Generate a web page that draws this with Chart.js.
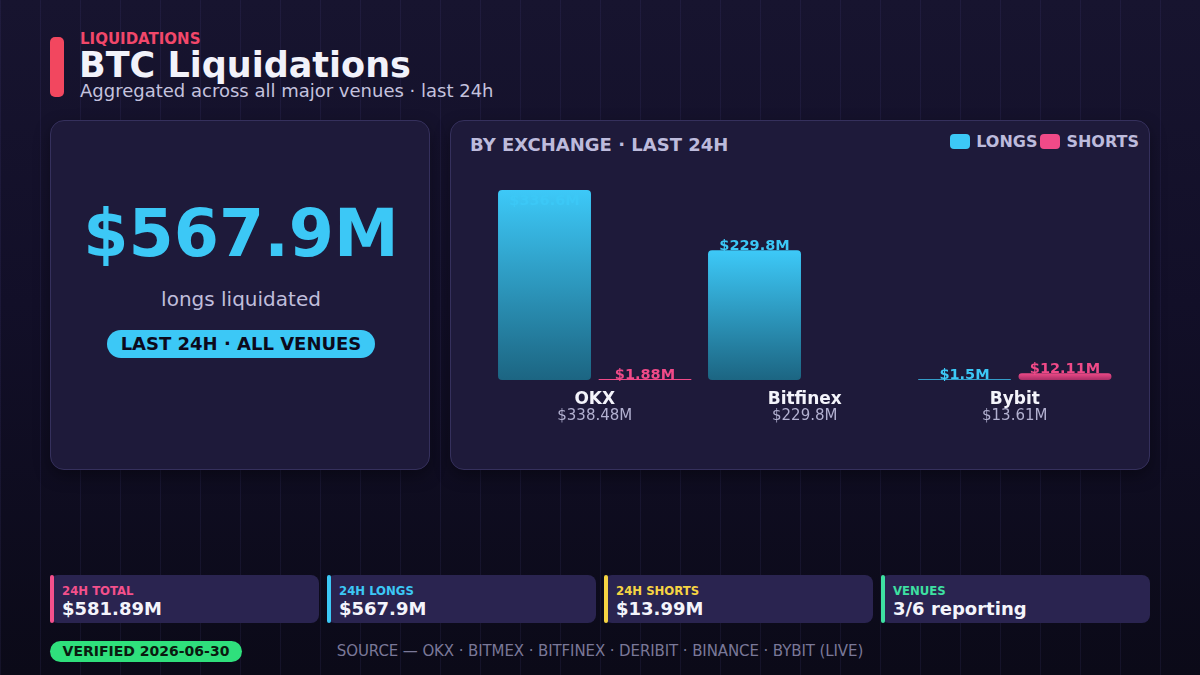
<!DOCTYPE html>
<html>
<head>
<meta charset="utf-8">
<script src="https://cdn.jsdelivr.net/npm/chart.js@4.4.1/dist/chart.umd.min.js"></script>
<style>
	html, body { margin: 0; padding: 0; }
	body {
		width: 1200px; height: 675px; overflow: hidden; position: relative;
		font-family: "DejaVu Sans", sans-serif;
		background:
			repeating-linear-gradient(90deg, rgba(110,100,190,0.10) 0 1px, transparent 1px 40px),
			linear-gradient(180deg, #17142f 0%, #120f28 45%, #0b0a18 100%);
	}
	.accent { position: absolute; left: 50px; top: 37px; width: 14px; height: 60px; border-radius: 5px; background: #f2475f; }
	.kicker { position: absolute; left: 80px; top: 30px; font-size: 15px; font-weight: bold; color: #f2476a; }
	.title { position: absolute; left: 79px; top: 45px; font-size: 35px; font-weight: bold; color: #f2f2fa; }
	.sub { position: absolute; left: 80px; top: 80px; font-size: 18px; color: #c4c2de; }
	.card {
		position: absolute; background: #1e1a3a; border: 1px solid #35305c; border-radius: 14px;
		box-shadow: 0 6px 16px rgba(0,0,0,0.35); box-sizing: border-box;
	}
	.big { position: absolute; left: 0; width: 380px; text-align: center; font-size: 65px; font-weight: bold; color: #3cc8f6; }
	.bigsub { position: absolute; left: 0; width: 380px; text-align: center; font-size: 20px; color: #c0bedc; }
	.pill {
		position: absolute; left: 107px; top: 330px; width: 268px; height: 28px; border-radius: 14px;
		background: #3cc8f6; color: #0c0a1c; font-size: 18px; font-weight: bold; text-align: center; line-height: 28px;
	}
	.ctitle { position: absolute; left: 470px; top: 134px; font-size: 18px; font-weight: bold; color: #bdbbdc; }
	.legend { position: absolute; right: 61px; top: 132px; font-size: 16px; font-weight: bold; color: #bdbbdc; display: flex; align-items: center; }
	.legend i { display: inline-block; width: 20px; height: 15px; border-radius: 4px; margin-right: 6px; }
	.legend span { margin-right: 3px; }
	#chartbox { position: absolute; left: 450px; top: 120px; width: 700px; height: 350px; }
	.stat {
		position: absolute; top: 575px; width: 269px; height: 48px; background: #2a2450; border-radius: 8px; box-sizing: border-box;
	}
	.stat b.bar { position: absolute; left: 0; top: 0; width: 4px; height: 48px; border-radius: 2px; }
	.stat .lab { position: absolute; left: 12px; top: 8px; font-family: "DejaVu Sans Condensed", "DejaVu Sans", sans-serif; font-size: 13px; font-weight: bold; }
	.stat .val { position: absolute; left: 12px; top: 23px; font-size: 18px; font-weight: bold; color: #f4f4fb; }
	.verified {
		position: absolute; left: 50px; top: 641px; width: 192px; height: 21px; border-radius: 11px; background: #2fe07c;
		color: #0a1a10; font-size: 14px; font-weight: bold; text-align: center; line-height: 21px;
	}
	.source { position: absolute; left: 0; width: 1200px; top: 642px; text-align: center; font-size: 15px; letter-spacing: -0.1px; color: #7a7898; }
</style>
</head>
<body>
<div class="accent"></div>
<div class="kicker">LIQUIDATIONS</div>
<div class="title">BTC Liquidations</div>
<div class="sub">Aggregated across all major venues · last 24h</div>

<div class="card" style="left:50px;top:120px;width:380px;height:350px;">
	<div class="big" style="top:75px">$567.9M</div>
	<div class="bigsub" style="top:166px">longs liquidated</div>
</div>
<div class="pill">LAST 24H · ALL VENUES</div>

<div class="card" style="left:450px;top:120px;width:700px;height:350px;"></div>
<div class="ctitle">BY EXCHANGE · LAST 24H</div>
<div class="legend"><i style="background:#3cc8f6"></i><span>LONGS</span><i style="background:#f04a88"></i><span style="margin-right:0">SHORTS</span></div>
<div id="chartbox"><canvas id="chart"></canvas></div>

<div class="stat" style="left:50px"><b class="bar" style="background:#f4508c"></b><div class="lab" style="color:#f4508c">24H TOTAL</div><div class="val">$581.89M</div></div>
<div class="stat" style="left:327px"><b class="bar" style="background:#3cc8f6"></b><div class="lab" style="color:#3cc8f6">24H LONGS</div><div class="val">$567.9M</div></div>
<div class="stat" style="left:604px"><b class="bar" style="background:#f6d443"></b><div class="lab" style="color:#f6d443">24H SHORTS</div><div class="val">$13.99M</div></div>
<div class="stat" style="left:881px"><b class="bar" style="background:#3ee0a2"></b><div class="lab" style="color:#3ee0a2">VENUES</div><div class="val">3/6 reporting</div></div>

<div class="verified">VERIFIED 2026-06-30</div>
<div class="source">SOURCE — OKX · BITMEX · BITFINEX · DERIBIT · BINANCE · BYBIT (LIVE)</div>

<script type="text/javascript">
	let exchanges = ["OKX", "Bitfinex", "Bybit"]
	let longs = [336.6, 229.8, 1.5]
	let shorts = [1.88, 0, 12.11]
	let totals = ["$338.48M", "$229.8M", "$13.61M"]

	let colors = {
		longTop: "#3dc9f8",
		longBottom: "#1c6582",
		shortTop: "#f04a88",
		shortBottom: "#a82e66",
		longText: "#3cc8f6",
		shortText: "#f04a88",
	}

	let gradient = function(top, bottom) {
		return function(ctx) {
			let chart = ctx.chart
			let y = chart.scales.y
			if(!y || ctx.raw == null || !chart.chartArea) {
				return top
			}
			let y0 = y.getPixelForValue(ctx.raw)
			let y1 = y.getPixelForValue(0)
			if(!Number.isFinite(y0) || !Number.isFinite(y1) || y1 - y0 < 2) {
				return top
			}
			let g = chart.ctx.createLinearGradient(0, y0, 0, y1)
			g.addColorStop(0, top)
			g.addColorStop(1, bottom)
			return g
		}
	}

	// value labels above bars + two-line category labels under the plot
	let labels = {
		id: "labels",
		afterDatasetsDraw: function(chart) {
			let ctx = chart.ctx
			let area = chart.chartArea
			let x = chart.scales.x
			ctx.save()
			ctx.textAlign = "center"
			ctx.textBaseline = "middle"
			chart.data.datasets.forEach(function(ds, di) {
				let meta = chart.getDatasetMeta(di)
				meta.data.forEach(function(bar, i) {
					let v = ds.data[i]
					if(!v) {
						return
					}
					ctx.font = "bold 14.5px 'DejaVu Sans'"
					ctx.fillStyle = di == 0 ? colors.longText : colors.shortText
					ctx.fillText("$" + v + "M", bar.x, Math.max(bar.y - 4, area.top + 11))
				})
			})
			exchanges.forEach(function(name, i) {
				let cx = x.getPixelForValue(i)
				ctx.font = "bold 17px 'DejaVu Sans'"
				ctx.fillStyle = "#f4f4fb"
				ctx.fillText(name, cx, area.bottom + 20)
				ctx.font = "15px 'DejaVu Sans'"
				ctx.fillStyle = "#b2b0d0"
				ctx.fillText(totals[i], cx, area.bottom + 36)
			})
			ctx.restore()
		},
	}

	let elem = document.querySelector("#chart")
	let chart = new Chart(elem, {
		type: "bar",
		data: {
			labels: exchanges,
			datasets: [{
				label: "LONGS",
				data: longs,
				backgroundColor: gradient(colors.longTop, colors.longBottom),
				borderRadius: 4,
				borderSkipped: false,
			}, {
				label: "SHORTS",
				data: shorts,
				backgroundColor: gradient(colors.shortTop, colors.shortBottom),
				borderRadius: 4,
				borderSkipped: false,
			}],
		},
		options: {
			responsive: true,
			maintainAspectRatio: false,
			animation: false,
			categoryPercentage: 0.957,
			barPercentage: 0.925,
			layout: {
				padding: { left: 39.75, right: 30.25, top: 70, bottom: 90 },
			},
			plugins: {
				legend: { display: false },
				tooltip: { enabled: false },
			},
			scales: {
				x: { display: false },
				y: { display: false, min: 0, max: Math.max.apply(null, longs) },
			},
		},
		plugins: [labels],
	})
</script>
</body>
</html>
